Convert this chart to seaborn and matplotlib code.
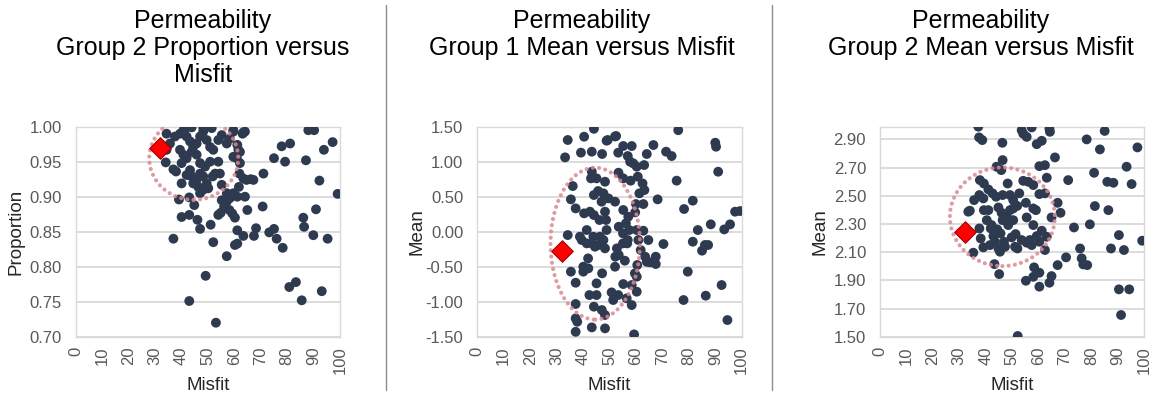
import matplotlib
matplotlib.use("Agg")
import matplotlib.pyplot as plt
from matplotlib.patches import Ellipse
from matplotlib.lines import Line2D
from matplotlib.ticker import FormatStrFormatter
import seaborn as sns

# ---- Group 2 proportion vs misfit ----
prop_misfit = [
    34.0, 36.9, 37.9, 40.0, 39.0, 42.9, 40.0, 42.9, 36.9, 44.8, 46.0, 47.0, 49.1, 42.9, 53.0,
    51.0, 52.0, 53.9, 54.8, 56.1, 57.1, 58.3, 58.1, 59.2, 60.2, 59.6, 57.1, 55.2, 61.1, 61.1,
    60.2, 63.4, 57.1, 61.1, 61.7, 64.0, 64.9, 61.9, 63.4, 64.6, 66.2, 67.2, 70.7, 71.0, 67.4,
    68.2, 73.2, 75.0, 76.0, 78.3, 75.0, 79.2, 77.9, 81.1, 87.1, 86.1, 86.4, 89.9, 90.9, 92.2,
    95.3, 99.1, 93.9, 97.2, 80.8, 83.3, 85.5, 93.1, 88.0, 90.2,
    34.3, 35.6, 37.5, 39.4, 41.0, 41.9, 43.2, 44.4, 45.7, 47.0, 48.2, 49.5, 50.8, 52.0, 53.9,
    55.2, 57.1, 58.3, 59.6, 61.1, 62.1, 63.1, 64.0, 39.4, 40.7, 41.9, 43.8, 45.7, 47.0, 48.9,
    50.8, 52.7, 54.5, 53.9, 47.0, 45.7, 44.4, 46.3, 48.2, 49.5, 48.2, 50.1, 43.2, 40.0, 41.9,
    43.8, 62.1, 60.9, 61.5, 59.6, 47.0, 55.2, 51.8,
    34.3, 40.7, 43.8, 48.2, 51.4, 59.6, 63.4,
]
prop_value = [
    0.949, 0.939, 0.936, 0.919, 0.896, 0.899, 0.871, 0.874, 0.840, 0.888, 0.867, 0.854, 0.787, 0.751, 0.720,
    0.860, 0.835, 0.874, 0.877, 0.886, 0.893, 0.898, 0.881, 0.876, 0.870, 0.905, 0.905, 0.895, 0.852, 0.833,
    0.831, 0.844, 0.815, 0.900, 0.914, 0.900, 0.881, 0.933, 0.926, 0.924, 0.925, 0.924, 0.886, 0.933, 0.844,
    0.855, 0.849, 0.854, 0.840, 0.827, 0.955, 0.950, 0.972, 0.976, 0.952, 0.870, 0.857, 0.845, 0.882, 0.923,
    0.840, 0.904, 0.967, 0.978, 0.771, 0.778, 0.752, 0.765, 0.995, 0.995,
    0.967, 0.976, 0.986, 0.990, 0.995, 0.986, 0.979, 0.971, 0.976, 0.986, 0.993, 0.981, 0.971, 0.967, 0.981,
    0.988, 0.976, 0.983, 0.993, 0.974, 0.964, 0.990, 0.993, 0.967, 0.960, 0.955, 0.964, 0.960, 0.948, 0.943,
    0.950, 0.933, 0.933, 0.950, 0.933, 0.924, 0.919, 0.914, 0.910, 0.919, 0.929, 0.912, 0.938, 0.948, 0.931,
    0.929, 0.948, 0.955, 0.967, 0.957, 0.905, 0.917, 0.929,
    0.990, 0.995, 0.999, 0.998, 0.998, 0.995, 0.992,
]

# ---- Group 1 mean vs misfit ----
g1_misfit = [
    33.2, 34.2, 36.1, 35.4, 37.2, 34.2, 35.4, 37.2, 37.2, 37.2, 37.8, 37.2, 43.3, 48.3, 59.3,
    40.4, 39.2, 43.3, 47.2, 49.3, 52.5, 53.3, 55.2, 58.4, 56.9, 57.8, 59.0, 60.3, 63.1, 64.1,
    66.6, 71.4, 73.5, 75.4, 76.0, 90.0, 90.3, 91.1, 68.2, 78.2, 81.5, 83.4, 81.5, 88.3, 85.0,
    86.1, 87.3, 93.4, 95.6, 97.5, 99.4, 79.6, 78.0, 86.4, 92.4, 94.6, 70.4, 67.5, 67.5, 65.3,
    64.1, 63.5, 64.7, 62.8, 60.3, 60.9, 61.8, 60.5, 59.6, 60.3, 60.3, 58.4, 58.4, 56.5, 55.2,
    53.3, 50.8, 51.4, 48.3, 47.1, 44.1, 45.1, 42.4, 45.1, 47.2, 52.1, 55.8, 53.5, 52.8, 55.1,
    56.9, 57.5, 56.2, 59.7, 60.0, 62.8, 61.3, 63.2, 62.5, 60.7, 58.0, 55.2, 53.4, 43.3, 43.0,
    45.1, 48.3, 44.1, 45.7, 47.7, 49.6, 52.1, 47.0, 48.3, 48.7, 46.2, 44.1, 40.4, 42.6, 41.4,
    38.8, 39.5, 41.4, 43.3, 44.5, 45.8, 46.4, 43.9, 47.7, 48.9, 48.3, 41.9, 40.1, 40.1, 42.0,
    52.2, 53.5, 55.1, 56.7, 55.2, 57.1, 44.1, 48.9, 52.1,
]
g1_mean = [
    1.062, 1.310, 0.652, 0.462, 0.333, -0.048, -0.571, -0.729, -1.033, -1.238, -1.286, -1.430, -1.367, -1.381, -1.467,
    1.357, 1.129, 1.143, 1.110, 1.310, 1.367, 1.129, 1.224, 1.224, 1.081, 1.000, 0.976, 0.929, 0.952, 1.110,
    1.238, 1.143, 1.081, 0.729, 1.450, 1.271, 1.214, 0.857, 0.462, 0.324, 0.443, 0.024, -0.143, 0.105, -0.271,
    -0.190, -0.190, 0.033, 0.105, 0.286, 0.295, -0.571, -0.976, -0.914, -0.762, -1.262, -0.176, -0.357, -0.462, -0.438,
    -0.430, -0.357, -0.119, 0.014, 0.024, -0.119, -0.262, -0.476, -0.595, -0.643, -0.857, -0.762, -1.048, -0.952, -0.748,
    -0.905, -0.867, -0.976, -1.190, -1.119, -1.071, -0.905, -0.905, -0.738, -0.595, -0.500, -0.414, -0.333, -0.238, -0.167,
    -0.119, 0.024, 0.119, 0.276, 0.395, 0.395, 0.548, 0.595, 0.690, 0.786, 0.729, 0.762, 0.843, 0.857, 0.762,
    0.762, 0.714, 0.524, 0.581, 0.548, 0.476, 0.429, 0.429, 0.286, 0.167, 0.167, 0.238, 0.262, 0.286, 0.024,
    -0.071, -0.119, -0.167, -0.167, -0.214, -0.190, -0.071, -0.071, -0.119, 0.024, -0.238, -0.381, -0.500, -0.571, -0.524,
    -0.357, 0.071, -0.024, -0.167, 0.310, 0.214, 1.470, 1.300, 1.360,
]

# ---- Group 2 mean vs misfit ----
g2_misfit = [
    37.2, 38.7, 37.5, 46.3, 55.5, 57.4, 53.6, 54.2, 59.3, 61.2, 64.3, 64.1, 66.2, 71.2, 78.2,
    83.2, 85.0, 81.0, 93.3, 97.4, 86.0, 88.3, 95.2, 81.3, 86.4, 79.4, 73.4, 75.7, 76.3, 76.9,
    78.4, 70.4, 67.2, 64.9, 64.1, 60.3, 60.3, 58.0, 58.3, 55.2, 52.1, 45.1, 43.3, 90.4, 92.3,
    87.4, 99.2, 90.4, 94.3, 91.2, 68.3, 67.2, 64.9, 63.1, 62.4, 60.3, 61.2, 59.3, 56.7, 55.5,
    57.4, 52.0, 51.3, 53.6, 58.0, 59.0, 58.0, 55.5, 55.2, 52.7, 62.4, 60.3, 63.1, 60.3, 62.4,
    56.1, 58.0, 54.2, 48.3, 46.4, 44.1, 45.9, 37.8, 39.3, 41.0, 35.6, 34.0, 37.6, 39.1, 42.6,
    43.9, 46.4, 49.2, 50.4, 51.9, 44.8, 46.0, 49.2, 50.4, 47.9, 50.4, 48.5, 46.4, 41.0, 40.4,
    42.2, 44.4, 45.6, 46.9, 43.5, 42.9, 41.6, 44.8, 45.4, 49.8, 37.6, 38.1, 39.1, 35.3, 41.9,
    39.3, 47.3, 51.1, 33.4,
]
g2_mean = [
    2.990, 2.895, 2.914, 2.876, 2.918, 2.985, 2.965, 2.940, 2.866, 2.890, 2.954, 2.975, 2.772, 2.611, 2.900,
    2.829, 2.960, 2.663, 2.706, 2.843, 2.599, 2.592, 2.583, 2.427, 2.398, 2.297, 2.275, 2.126, 2.056, 2.013,
    2.008, 2.063, 2.008, 1.930, 1.883, 1.954, 1.855, 1.925, 1.992, 1.897, 1.505, 1.944, 2.015, 2.221, 2.115,
    2.126, 2.181, 1.836, 1.836, 1.654, 2.379, 2.450, 2.346, 2.209, 2.115, 2.174, 2.252, 2.214, 2.186, 2.167,
    2.150, 2.126, 2.228, 2.186, 2.292, 2.398, 2.410, 2.346, 2.450, 2.517, 2.517, 2.512, 2.628, 2.710, 2.717,
    2.599, 2.576, 2.606, 2.587, 2.753, 2.706, 2.682, 2.611, 2.587, 2.545, 2.469, 2.394, 2.505, 2.481, 2.517,
    2.493, 2.505, 2.505, 2.469, 2.428, 2.417, 2.379, 2.398, 2.410, 2.356, 2.327, 2.292, 2.327, 2.398, 2.327,
    2.292, 2.261, 2.233, 2.174, 2.174, 2.214, 2.150, 2.126, 2.103, 2.205, 2.268, 2.197, 2.134, 2.096, 2.268,
    2.398, 2.138, 2.138, 2.387,
]

# best-fit (lowest misfit) realisation for each panel
best_misfit = [32.0, 32.0, 32.0]
best_value = [0.969, -0.27, 2.24]

titles = [
    "Permeability\nGroup 2 Proportion versus\nMisfit",
    "Permeability\nGroup 1 Mean versus Misfit",
    "Permeability\nGroup 2 Mean versus Misfit",
]
y_labels = ["Proportion", "Mean", "Mean"]
x_label = "Misfit"
x_ticks = list(range(0, 101, 10))
y_ticks = [
    [0.70, 0.75, 0.80, 0.85, 0.90, 0.95, 1.00],
    [-1.50, -1.00, -0.50, 0.00, 0.50, 1.00, 1.50],
    [1.50, 1.70, 1.90, 2.10, 2.30, 2.50, 2.70, 2.90],
]
y_limits = [(0.70, 1.00), (-1.50, 1.50), (1.50, 2.99)]

sns.set_style("white")
plt.rcParams["font.family"] = ["Liberation Sans", "DejaVu Sans"]
plt.rcParams["axes.unicode_minus"] = False

W, H = 1159, 396
fig = plt.figure(figsize=(W / 100, H / 100), dpi=100)

ax_px = [(76, 340), (477.3, 741.7), (880, 1144.3)]
top_px, bottom_px = 126.7, 336.7
title_x = [203, 582, 981]

point_color = "#2E3A4F"
grid_color = "#D9D9D9"
tick_color = "#595959"

# highlighted region around the best-fit cloud: (centre x, centre y, width, height)
regions = [
    (44.6, 0.955, 33.7, 0.119),
    (44.6, -0.17, 33.8, 2.17),
    (46.3, 2.351, 39.7, 0.70),
]

data = [
    (prop_misfit, prop_value),
    (g1_misfit, g1_mean),
    (g2_misfit, g2_mean),
]

for i in range(3):
    x0, x1 = ax_px[i]
    ax = fig.add_axes([x0 / W, 1 - bottom_px / H, (x1 - x0) / W, (bottom_px - top_px) / H])
    xs, ys = data[i]
    sns.scatterplot(x=xs, y=ys, ax=ax, s=50, color=point_color, edgecolor="none",
                    linewidth=0, zorder=3, legend=False)
    sns.scatterplot(x=[best_misfit[i]], y=[best_value[i]], ax=ax, marker="D", s=120,
                    color="#FF0000", edgecolor="#A00000", linewidth=0.8, zorder=6, legend=False)
    cx, cy, ew, eh = regions[i]
    ell = Ellipse((cx, cy), ew, eh, fill=False, edgecolor="#D98A94", alpha=0.85,
                  linewidth=3.0, linestyle=(0, (0.01, 1.5)), zorder=5)
    ell.set_capstyle("round")
    ax.add_patch(ell)

    ax.set_xlim(0, 100)
    ax.set_ylim(*y_limits[i])
    ax.set_xticks(x_ticks)
    ax.set_yticks(y_ticks[i])
    ax.yaxis.set_major_formatter(FormatStrFormatter("%.2f"))
    ax.tick_params(axis="x", labelrotation=90, length=0, pad=7, labelsize=12, colors=tick_color)
    ax.tick_params(axis="y", length=0, pad=10, labelsize=12, colors=tick_color)
    ax.yaxis.grid(True, color=grid_color, linewidth=1.3, zorder=0)
    ax.xaxis.grid(False)
    ax.set_axisbelow(True)
    for sp in ax.spines.values():
        sp.set_color(grid_color)
        sp.set_linewidth(1.0)
    ax.set_xlabel(x_label, fontsize=13.5, color="#262626")
    ax.set_ylabel(y_labels[i], fontsize=13.5, color="#262626")
    ax.xaxis.set_label_coords(0.5, -0.19)
    ax.yaxis.set_label_coords(-0.195, 0.5)

    fig.text(title_x[i] / W, 1 - 9 / H, titles[i], ha="center", va="top",
             fontsize=18, linespacing=1.15, color="#000000")

# panel separators
for sx in (386, 772):
    fig.add_artist(Line2D([sx / W, sx / W], [1 - 5 / H, 1 - 390 / H],
                          color="#8C8C8C", linewidth=1.0))

fig.savefig("out.png", dpi=100, facecolor="white")
